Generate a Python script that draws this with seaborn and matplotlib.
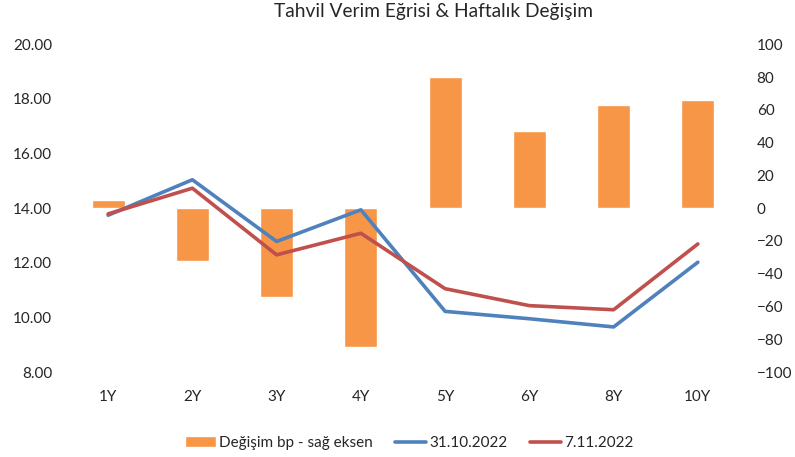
import numpy as np
import pandas as pd
import matplotlib
matplotlib.use("Agg")
import matplotlib.pyplot as plt
import seaborn as sns

# tenors and yields
tenors = ["1Y", "2Y", "3Y", "4Y", "5Y", "6Y", "8Y", "10Y"]
yield_3110 = [13.74, 15.04, 12.78, 13.94, 10.22, 9.95, 9.65, 12.02]
yield_0711 = [13.79, 14.73, 12.29, 13.08, 11.05, 10.43, 10.28, 12.69]
change_bp = [5, -32, -54, -85, 80, 47, 63, 66]

ORANGE = "#F79646"
BLUE = "#4F81BD"
RED = "#C0504D"
TEXT = "#262626"


def main():
    sns.set_style("white")
    plt.rcParams["font.family"] = ["Lato", "DejaVu Sans"]

    df = pd.DataFrame({"tenor": tenors, "pos": np.arange(len(tenors)),
                       "y1": yield_3110, "y2": yield_0711, "chg": change_bp})

    fig = plt.figure(figsize=(7.95, 4.57), dpi=100)
    ax = fig.add_axes([66 / 795, 1 - 372 / 457, 674 / 795, 327.7 / 457])
    ax2 = ax.twinx()

    # bars on the right axis, drawn behind the lines
    sns.barplot(data=df, x="pos", y="chg", ax=ax2, color=ORANGE,
                width=0.39, saturation=1, native_scale=True,
                label="Değişim bp - sağ eksen")
    ax2.set_zorder(ax.get_zorder() - 1)
    ax.patch.set_visible(False)

    sns.lineplot(data=df, x="pos", y="y1", ax=ax, color=BLUE, lw=2.6,
                 label="31.10.2022")
    sns.lineplot(data=df, x="pos", y="y2", ax=ax, color=RED, lw=2.6,
                 label="7.11.2022")

    ax.set_xlim(-0.5, len(tenors) - 0.5)
    ax.set_ylim(8, 20)
    ax.set_yticks(np.arange(8, 21, 2))
    ax.set_yticklabels([f"{v:.2f}" for v in np.arange(8, 21, 2)])
    ax2.set_ylim(-100, 100)
    ax2.set_yticks(np.arange(-100, 101, 20))
    ax.set_xticks(df["pos"])
    ax.set_xticklabels(tenors)

    for a in (ax, ax2):
        a.set_xlabel("")
        a.set_ylabel("")
        for s in a.spines.values():
            s.set_visible(False)
        a.grid(False)
        a.tick_params(length=0, labelsize=11, labelcolor=TEXT)
    ax.tick_params(axis="x", pad=13)
    ax.tick_params(axis="y", pad=10)
    ax2.tick_params(axis="y", pad=12)

    handles = ax2.get_legend_handles_labels()[0] + ax.get_legend_handles_labels()[0]
    labels = ax2.get_legend_handles_labels()[1] + ax.get_legend_handles_labels()[1]
    for a in (ax, ax2):
        if a.get_legend() is not None:
            a.get_legend().remove()
    fig.legend(handles, labels, loc="center", bbox_to_anchor=(409 / 795, 1 - 443 / 457),
               ncol=3, frameon=False, fontsize=11, handlelength=2.0,
               handletextpad=0.2, columnspacing=1.5, labelcolor=TEXT)

    fig.text(434 / 795, 1 - 12 / 457, "Tahvil Verim Eğrisi & Haftalık Değişim",
             ha="center", va="center", fontsize=13.8, color=TEXT)

    fig.savefig("out.png", dpi=100)


if __name__ == "__main__":
    main()
